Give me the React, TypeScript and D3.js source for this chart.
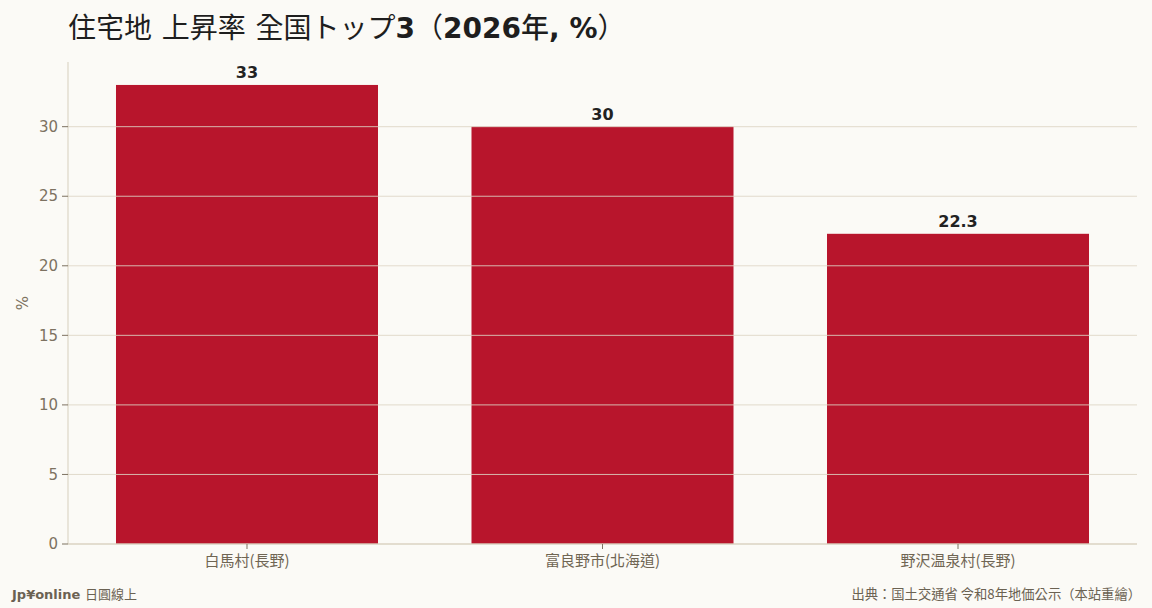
import React from "react";
import * as d3 from "d3";

const categories = ["白馬村(長野)", "富良野市(北海道)", "野沢温泉村(長野)"];
const values = [33, 30, 22.3];
const yTicks = [0, 5, 10, 15, 20, 25, 30];

const W = 1152;
const H = 608;
const M = { left: 68, right: 15, top: 62, bottom: 64 };
const FONT = "'DejaVu Sans', 'Noto Sans CJK TC', sans-serif";
const CJK = "'Noto Sans CJK TC', 'DejaVu Sans', sans-serif";

export default function App() {
  const x = d3
    .scaleBand<string>()
    .domain(categories)
    .range([M.left, W - M.right])
    .paddingInner(0.263)
    .paddingOuter(0.135);
  const yMax = d3.max(values)! * 1.05;
  const y = d3.scaleLinear().domain([0, yMax]).range([H - M.bottom, M.top]);
  const x0 = M.left;
  const x1 = W - M.right;
  const yb = y(0);

  return (
    <svg
      width={W}
      height={H}
      viewBox={`0 0 ${W} ${H}`}
      style={{ position: "absolute", left: 0, top: 0, display: "block" }}
      fontFamily={FONT}
    >
      <rect x={0} y={0} width={W} height={H} fill="#fbfaf6" />
      {categories.map((c, i) => (
        <rect
          key={c}
          x={x(c)!}
          y={y(values[i])}
          width={x.bandwidth()}
          height={yb - y(values[i])}
          fill="#b8152c"
        />
      ))}
      {yTicks.map((t) => (
        <line
          key={t}
          x1={x0}
          x2={x1}
          y1={y(t)}
          y2={y(t)}
          stroke="#ddd5c4"
          strokeOpacity={0.85}
          strokeWidth={1}
        />
      ))}
      <line x1={x0} x2={x0} y1={M.top} y2={yb} stroke="#d6cfbd" strokeWidth={1} />
      <line x1={x0} x2={x1} y1={yb} y2={yb} stroke="#d6cfbd" strokeWidth={1} />
      {yTicks.map((t) => (
        <g key={"yt" + t}>
          <line x1={x0 - 6} x2={x0} y1={y(t)} y2={y(t)} stroke="#7d7261" strokeWidth={1} />
          <text
            x={x0 - 10}
            y={y(t)}
            dy="0.35em"
            textAnchor="end"
            fontSize={15}
            fill="#7d7261"
          >
            {t}
          </text>
        </g>
      ))}
      {categories.map((c) => {
        const cx = x(c)! + x.bandwidth() / 2;
        return (
          <g key={"xt" + c}>
            <line x1={cx} x2={cx} y1={yb} y2={yb + 5} stroke="#7d7261" strokeWidth={1} />
            <text
              x={cx}
              y={yb + 22}
              textAnchor="middle"
              fontSize={15}
              fill="#6f6553"
              fontFamily={CJK}
            >
              {c}
            </text>
          </g>
        );
      })}
      {categories.map((c, i) => (
        <text
          key={"v" + c}
          x={x(c)! + x.bandwidth() / 2}
          y={y(values[i]) - 7}
          textAnchor="middle"
          fontSize={16}
          fontWeight="bold"
          fill="#222222"
        >
          {String(values[i])}
        </text>
      ))}
      <text
        transform={`translate(28, ${(M.top + yb) / 2}) rotate(-90)`}
        textAnchor="middle"
        fontSize={15}
        fill="#7d7261"
      >
        %
      </text>
      <text x={68} y={38} fontSize={28} fill="#1e1e1e" fontWeight="bold">
        <tspan fontFamily={CJK} fontWeight={400}>住宅地</tspan>
        <tspan> </tspan>
        <tspan fontFamily={CJK} fontWeight={400}>上昇率</tspan>
        <tspan> </tspan>
        <tspan fontFamily={CJK} fontWeight={400}>全国トップ</tspan>
        <tspan>3</tspan>
        <tspan fontFamily={CJK} fontWeight={400}>（</tspan>
        <tspan>2026</tspan>
        <tspan fontFamily={CJK} fontWeight={500}>年</tspan>
        <tspan>, %</tspan>
        <tspan fontFamily={CJK} fontWeight={400}>）</tspan>
      </text>
      <text x={12} y={599} fontSize={13} fill="#6b6252">
        <tspan fontWeight="bold">Jp¥online </tspan>
        <tspan fontFamily={CJK}>日圓線上</tspan>
      </text>
      <text x={1141} y={599} fontSize={13.3} fill="#6b6252" textAnchor="end" fontFamily={CJK}>
        出典：国土交通省 令和8年地価公示（本站重繪）
      </text>
    </svg>
  );
}
